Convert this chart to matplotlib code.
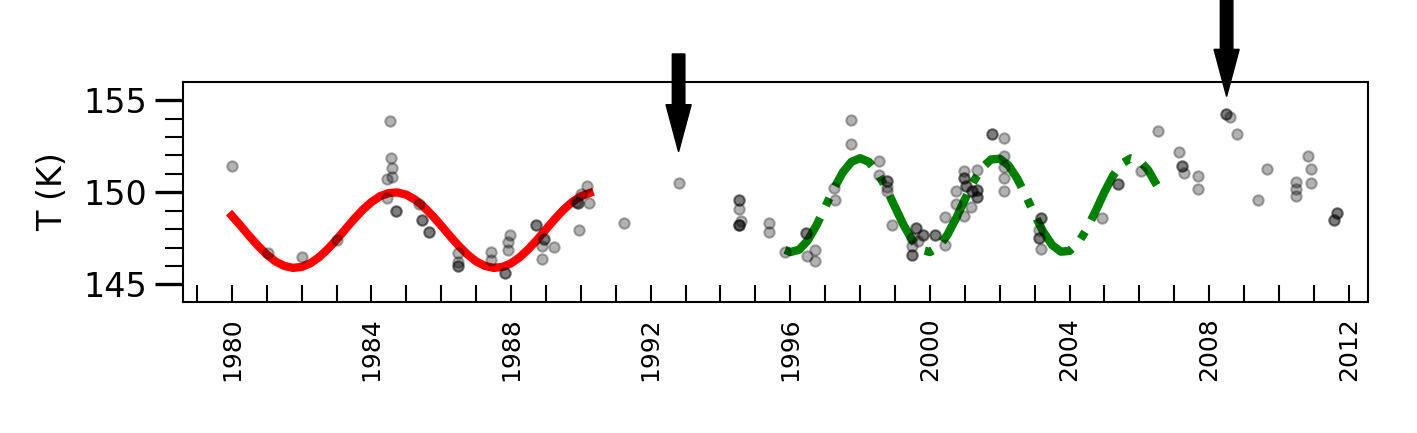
import numpy as np
import matplotlib.pyplot as plt
from matplotlib.ticker import MultipleLocator

# observed points (year, T)
obs_year = [1980.0, 1981.04, 1982.02, 1983.0, 1984.54, 1984.57, 1984.6, 1984.45, 1984.6, 1984.45,
            1984.71, 1984.71, 1985.37, 1985.45, 1985.45, 1985.64, 1985.64, 1986.47, 1986.47, 1986.47,
            1986.47, 1987.43, 1987.43, 1987.84, 1987.84, 1987.97, 1987.92, 1987.92, 1988.71, 1988.71,
            1988.93, 1988.93, 1988.9, 1989.22, 1988.9, 1989.95, 1989.91, 1989.91, 1989.85, 1990.0,
            1990.19, 1990.22, 1991.24, 1992.82,
            1994.53, 1994.53, 1994.53, 1994.58, 1994.53, 1994.53, 1994.53, 1995.39, 1995.39, 1995.85,
            1996.45, 1996.45, 1996.47, 1996.7, 1996.7, 1997.26, 1997.29, 1997.73, 1997.73, 1998.54,
            1998.54, 1998.76, 1998.76, 1998.76, 1998.76, 1998.91, 1999.6, 1999.6, 1999.79, 1999.79,
            1999.5, 1999.65, 1999.5, 1999.5, 1999.5, 2000.15, 2000.15, 2000.43, 2000.43, 2000.74,
            2000.74, 2000.98, 2000.98, 2000.98, 2001.03, 2001.03, 2000.98, 2001.17, 2001.2, 2001.2,
            2001.36, 2001.36, 2001.36, 2001.36, 2001.34, 2001.79, 2001.79, 2002.12, 2002.12, 2002.12,
            2002.12, 2002.12, 2003.17, 2003.17, 2003.12, 2003.12, 2003.12, 2003.17, 2004.94, 2005.39,
            2005.39, 2006.06, 2006.54, 2007.13, 2007.23, 2007.23, 2007.28, 2007.68, 2007.68, 2008.47,
            2008.47, 2008.61, 2008.8, 2009.4, 2009.66, 2010.49, 2010.49, 2010.49, 2010.83, 2010.92,
            2010.92, 2011.66, 2011.66, 2011.57, 2011.57]
obs_T = [151.44, 146.72, 146.47, 147.44, 153.86, 151.88, 151.34, 150.72, 150.83, 149.7,
         148.97, 148.97, 149.34, 148.49, 148.49, 147.86, 147.86, 146.72, 146.2, 146.0,
         146.0, 146.76, 146.31, 145.64, 145.64, 147.71, 147.3, 146.85, 148.2, 148.2,
         147.48, 147.48, 147.08, 147.01, 146.36, 147.98, 149.43, 149.43, 149.5, 149.9,
         150.32, 149.43, 148.35, 150.51,
         149.6, 149.6, 149.1, 148.43, 148.2, 148.2, 148.2, 148.35, 147.86, 146.78,
         147.8, 147.8, 146.54, 146.85, 146.27, 150.24, 149.6, 153.93, 152.63, 151.71,
         150.96, 150.6, 150.6, 150.29, 150.05, 148.2, 148.07, 148.07, 147.71, 147.71,
         147.54, 147.35, 147.08, 146.58, 146.58, 147.71, 147.71, 147.12, 148.67, 150.09,
         149.34, 151.14, 150.78, 150.78, 150.32, 150.32, 148.74, 149.21, 150.05, 150.05,
         150.15, 150.15, 149.75, 149.75, 151.23, 153.16, 153.16, 152.94, 151.95, 151.37,
         150.78, 150.09, 148.62, 148.62, 147.54, 147.54, 147.95, 146.9, 148.62, 150.45,
         150.45, 151.14, 153.34, 152.16, 151.41, 151.41, 151.05, 150.9, 150.2, 154.25,
         154.25, 154.08, 153.17, 149.6, 151.26, 150.54, 150.2, 149.82, 151.98, 151.26,
         150.51, 148.85, 148.85, 148.52, 148.52]

# red model curve
red_year = [1980.0, 1980.25, 1980.5, 1980.75, 1981.0, 1981.25, 1981.5, 1981.75, 1982.0, 1982.25,
            1982.5, 1982.75, 1983.0, 1983.25, 1983.5, 1983.75, 1984.0, 1984.25, 1984.5, 1984.75,
            1985.0, 1985.25, 1985.5, 1985.75, 1986.0, 1986.25, 1986.5, 1986.75, 1987.0, 1987.25,
            1987.5, 1987.75, 1988.0, 1988.25, 1988.5, 1988.75, 1989.0, 1989.25, 1989.5, 1989.75,
            1990.0, 1990.25]
red_T = [148.73, 148.19, 147.63, 147.10, 146.63, 146.25, 146.01, 145.90, 145.95, 146.15,
         146.48, 146.92, 147.43, 147.99, 148.54, 149.05, 149.47, 149.79, 149.96, 149.99,
         149.87, 149.60, 149.21, 148.73, 148.19, 147.63, 147.10, 146.63, 146.25, 146.01,
         145.90, 145.95, 146.15, 146.48, 146.92, 147.43, 147.99, 148.54, 149.05, 149.47,
         149.79, 149.96]

# green model curve
green_year = [1995.85, 1996.0, 1996.25, 1996.5, 1996.75, 1997.0, 1997.25, 1997.5, 1997.75, 1998.0,
              1998.25, 1998.5, 1998.75, 1999.0, 1999.25, 1999.5, 1999.75, 2000.0, 2000.25, 2000.5,
              2000.75, 2001.0, 2001.25, 2001.5, 2001.75, 2002.0, 2002.25, 2002.5, 2002.75, 2003.0,
              2003.25, 2003.5, 2003.75, 2004.0, 2004.25, 2004.5, 2004.75, 2005.0, 2005.25, 2005.5,
              2005.75, 2006.0, 2006.25, 2006.5]
green_T = [146.88, 146.76, 146.88, 147.39, 148.21, 149.20, 150.20, 151.07, 151.65, 151.85,
           151.65, 151.07, 150.20, 149.20, 148.21, 147.39, 146.88, 146.76, 147.04, 147.69,
           148.59, 149.61, 150.58, 151.34, 151.78, 151.82, 151.46, 150.75, 149.81, 148.79,
           147.85, 147.14, 146.78, 146.82, 147.26, 148.03, 148.99, 150.01, 150.91, 151.56,
           151.84, 151.72, 151.21, 150.39]

arrow_year = [1992.8, 2008.5]
arrow_tip = [152.2, 155.2]
arrow_tail = [157.5, 161.0]

fig = plt.figure(figsize=(14.17, 4.33), dpi=100)
ax = fig.add_axes([0.1291, 0.3025, 0.8363, 0.5081])

ax.plot(obs_year, obs_T, 'o', color='k', alpha=0.3, ms=7.5, mew=1.5, zorder=3)
ax.plot(red_year, red_T, color='red', lw=6, zorder=2)
ax.plot(green_year, green_T, color='green', lw=6, ls='-.', zorder=2)

for xa, tip, tail in zip(arrow_year, arrow_tip, arrow_tail):
    ax.arrow(xa, tail, 0, tip - tail, width=0.36, head_width=0.72, head_length=2.55,
             length_includes_head=True, fc='k', ec='k', clip_on=False, zorder=5)

ax.set_xlim(1978.6, 2012.55)
ax.set_ylim(144.05, 155.98)

ax.xaxis.set_major_locator(MultipleLocator(4))
ax.xaxis.set_minor_locator(MultipleLocator(1))
ax.yaxis.set_major_locator(MultipleLocator(5))
ax.yaxis.set_minor_locator(MultipleLocator(1))

ax.tick_params(axis='x', which='both', direction='in', length=12, width=1.5,
               labelsize=18, labelrotation=90, pad=11)
ax.tick_params(axis='y', which='major', direction='out', length=20, width=2.4,
               labelsize=24, pad=6)
ax.tick_params(axis='y', which='minor', direction='out', length=13, width=1.5)

ax.set_ylabel('T (K)', fontsize=24, labelpad=10)
for s in ax.spines.values():
    s.set_linewidth(1.5)

fig.savefig('out.png', dpi=100)
